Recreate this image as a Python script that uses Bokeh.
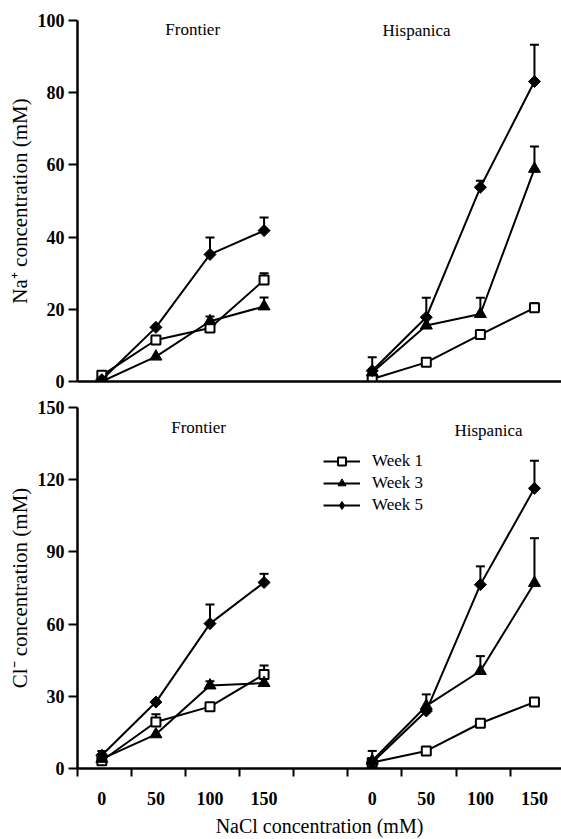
from bokeh.plotting import figure
from bokeh.models import (ColumnDataSource, FixedTicker, Whisker, TeeHead, Label,
                          Legend, LegendItem, Range1d)
from bokeh.layouts import column
from bokeh.embed import file_html
from bokeh.resources import INLINE

# ---------------- data ----------------
NACL = [0, 50, 100, 150]                 # NaCl treatment (mM), tick labels
CULTIVARS = ["Frontier", "Hispanica"]
WEEKS = ["Week 1", "Week 3", "Week 5"]

NA_TICKS = [0, 20, 40, 60, 80, 100]
CL_TICKS = [0, 30, 60, 90, 120, 150]

# Na+ concentration (mM)  -- means
NA_FRONTIER_W1 = [1.7, 11.5, 14.8, 28.1]
NA_FRONTIER_W3 = [0.0, 6.9, 16.7, 20.8]
NA_FRONTIER_W5 = [0.5, 15.0, 35.2, 41.8]
NA_HISPANICA_W1 = [0.7, 5.3, 13.0, 20.4]
NA_HISPANICA_W3 = [2.5, 15.5, 18.7, 58.9]
NA_HISPANICA_W5 = [3.0, 17.8, 53.8, 83.1]
# Na+ upper error (SE)
NA_FRONTIER_W1_ERR = [0, 0, 0, 1.9]
NA_FRONTIER_W3_ERR = [0, 0, 1.3, 2.5]
NA_FRONTIER_W5_ERR = [0, 0, 4.7, 3.6]
NA_HISPANICA_W1_ERR = [0, 0, 0, 1.3]
NA_HISPANICA_W3_ERR = [0, 0, 4.5, 6.2]
NA_HISPANICA_W5_ERR = [3.7, 5.4, 1.8, 10.2]

# Cl- concentration (mM) -- means
CL_FRONTIER_W1 = [3.2, 19.3, 25.7, 39.1]
CL_FRONTIER_W3 = [4.0, 14.2, 34.5, 35.5]
CL_FRONTIER_W5 = [5.5, 27.6, 60.2, 77.3]
CL_HISPANICA_W1 = [2.5, 7.3, 18.8, 27.6]
CL_HISPANICA_W3 = [3.2, 26.0, 40.5, 77.1]
CL_HISPANICA_W5 = [2.5, 23.9, 76.4, 116.4]
# Cl- upper error (SE)
CL_FRONTIER_W1_ERR = [0, 3.2, 0, 3.7]
CL_FRONTIER_W3_ERR = [0, 0, 1.8, 0]
CL_FRONTIER_W5_ERR = [1.8, 0, 7.9, 3.6]
CL_HISPANICA_W1_ERR = [0, 0, 0, 0]
CL_HISPANICA_W3_ERR = [4.1, 4.8, 6.2, 18.6]
CL_HISPANICA_W5_ERR = [0, 0, 7.6, 11.5]

# ---------------- style ----------------
FONT = "Liberation Serif"
X_OFFSET = 0.45            # points sit inside each tick interval
GROUP_START = [0, 5]       # first interval of each cultivar group
X_END = 8.95

def xpos(g):
    return [GROUP_START[g] + i + X_OFFSET for i in range(len(NACL))]

ALL_X = xpos(0) + xpos(1)

MARKERS = [
    dict(marker="square", size=9, fill_color="white", line_color="black", line_width=2, angle=0.0),
    dict(marker="triangle", size=12, fill_color="black", line_color="black", line_width=1, angle=0.0),
    dict(marker="square", size=8.5, fill_color="black", line_color="black", line_width=1, angle=0.785398),
]
LEGEND_MARKERS = [
    dict(marker="square", size=9, fill_color="white", line_width=2),
    dict(marker="triangle", size=12, fill_color="black", line_width=1),
    dict(marker="diamond", size=14, fill_color="black", line_width=1),
]


def build(series, errs, ticks, ymax, ylabel, bottom, height, mb_top, mb_bottom,
          title_pos, legend=False):
    p = figure(width=561, height=height, output_backend="svg", toolbar_location=None,
               x_range=Range1d(0, X_END), y_range=Range1d(0, ymax),
               min_border_left=77, min_border_right=0,
               min_border_top=mb_top, min_border_bottom=mb_bottom)
    p.outline_line_color = None
    p.grid.visible = False
    p.background_fill_color = "white"

    items = []
    for k in range(3):
        fr, hi = series[k]
        ys = fr + [float("nan")] + hi
        xs = xpos(0) + [float("nan")] + xpos(1)
        lr = p.line(xs, ys, line_color="black", line_width=2)
        m = MARKERS[k]
        fe, he = errs[k]
        bx, by, bu = [], [], []
        for x, y, e in zip(ALL_X, fr + hi, fe + he):
            if e > 0:
                bx.append(x); by.append(y); bu.append(y + e)
        if bx:
            src = ColumnDataSource(dict(x=bx, y=by, u=bu))
            w = Whisker(source=src, base="x", lower="y", upper="u", dimension="height",
                        line_color="black", line_width=2,
                        upper_head=TeeHead(size=9, line_width=2, line_color="black"),
                        lower_head=None)
            p.add_layout(w)
        p.scatter(ALL_X, fr + hi, marker=m["marker"], size=m["size"],
                  fill_color=m["fill_color"], line_color=m["line_color"],
                  line_width=m["line_width"], angle=m["angle"])
        if legend:
            lm = LEGEND_MARKERS[k]
            dummy = p.scatter([float("nan")], [float("nan")], marker=lm["marker"],
                              size=lm["size"], fill_color=lm["fill_color"],
                              line_color="black", line_width=lm["line_width"])
            items.append(LegendItem(label=WEEKS[k], renderers=[lr, dummy]))

    ya = p.yaxis[0]
    ya.ticker = FixedTicker(ticks=ticks, minor_ticks=[])
    ya.axis_line_width = 2.5
    ya.major_tick_line_width = 2
    ya.major_tick_out = 9
    ya.major_tick_in = 0
    ya.major_label_standoff = 4
    ya.major_label_text_font = FONT
    ya.major_label_text_font_style = "bold"
    ya.major_label_text_font_size = "18px"
    ya.major_label_text_color = "black"
    ya.axis_label = ylabel
    ya.axis_label_text_font = FONT
    ya.axis_label_text_font_style = "normal"
    ya.axis_label_text_font_size = "21px"
    ya.axis_label_text_color = "black"
    ya.axis_label_standoff = 3

    xa = p.xaxis[0]
    xa.axis_line_width = 2.5
    if bottom:
        xa.ticker = FixedTicker(ticks=ALL_X, minor_ticks=list(range(0, 9)))
        xa.major_label_overrides = {x: str(v) for x, v in zip(ALL_X, NACL + NACL)}
        xa.major_tick_out = 0
        xa.major_tick_in = 0
        xa.minor_tick_out = 8
        xa.minor_tick_in = 0
        xa.minor_tick_line_width = 2
        xa.major_label_standoff = 15
        xa.major_label_text_font = FONT
        xa.major_label_text_font_style = "bold"
        xa.major_label_text_font_size = "18px"
        xa.major_label_text_color = "black"
        xa.axis_label = "NaCl concentration (mM)"
        xa.axis_label_text_font = FONT
        xa.axis_label_text_font_style = "normal"
        xa.axis_label_text_font_size = "20px"
        xa.axis_label_text_color = "black"
        xa.axis_label_standoff = 7
    else:
        xa.ticker = FixedTicker(ticks=[], minor_ticks=[])
        xa.major_tick_out = 0
        xa.minor_tick_out = 0
        xa.major_label_text_font_size = "0px"

    for name, (tx, ty) in zip(CULTIVARS, title_pos):
        p.add_layout(Label(x=tx, y=ty, text=name, text_font=FONT, text_font_size="17px",
                           text_align="center", text_baseline="middle", text_color="black"))

    if legend:
        lg = Legend(items=items, location=(246, 253), orientation="vertical",
                    glyph_width=37, glyph_height=20, label_height=20, spacing=2,
                    label_standoff=12, padding=0, margin=0,
                    border_line_color=None, background_fill_alpha=0,
                    label_text_font=FONT, label_text_font_size="17px",
                    label_text_color="black")
        p.add_layout(lg)
    return p


na_series = [(NA_FRONTIER_W1, NA_HISPANICA_W1), (NA_FRONTIER_W3, NA_HISPANICA_W3),
             (NA_FRONTIER_W5, NA_HISPANICA_W5)]
na_errs = [(NA_FRONTIER_W1_ERR, NA_HISPANICA_W1_ERR), (NA_FRONTIER_W3_ERR, NA_HISPANICA_W3_ERR),
           (NA_FRONTIER_W5_ERR, NA_HISPANICA_W5_ERR)]
cl_series = [(CL_FRONTIER_W1, CL_HISPANICA_W1), (CL_FRONTIER_W3, CL_HISPANICA_W3),
             (CL_FRONTIER_W5, CL_HISPANICA_W5)]
cl_errs = [(CL_FRONTIER_W1_ERR, CL_HISPANICA_W1_ERR), (CL_FRONTIER_W3_ERR, CL_HISPANICA_W3_ERR),
           (CL_FRONTIER_W5_ERR, CL_HISPANICA_W5_ERR)]

top = build(na_series, na_errs, NA_TICKS, 100, "Na\u207a concentration (mM)", False,
            395, 20, 14, [(2.13, 97.5), (6.27, 97.3)])
bot = build(cl_series, cl_errs, CL_TICKS, 150, "Cl\u207b concentration (mM)", True,
            444, 12, 70, [(2.24, 141.8), (7.6, 140.6)], legend=True)

layout = column(top, bot, spacing=0)
open("out.html", "w").write(file_html(layout, INLINE))
